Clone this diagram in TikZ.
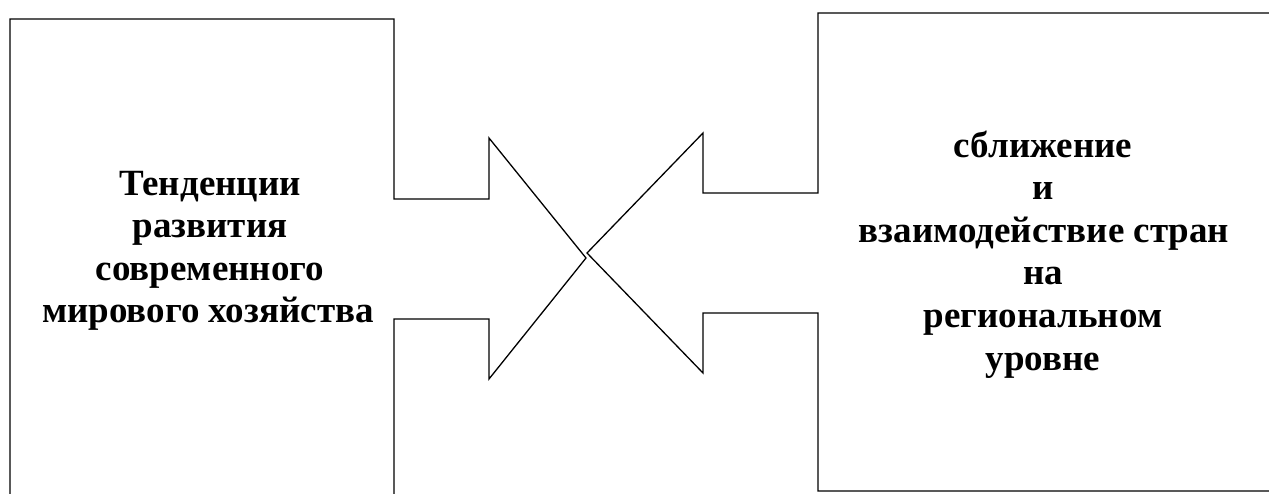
\documentclass[tikz,border=0pt]{standalone}
\usepackage{fontspec}
\setmainfont{Liberation Serif}
\begin{document}
\begin{tikzpicture}[x=1pt,y=-1pt,
  outline/.style={draw=black,line width=1.3pt,line join=miter},
  txt/.style={anchor=base,inner sep=0pt,font=\fontsize{37}{42}\selectfont\bfseries}]
\useasboundingbox (0,0) rectangle (1269,493);
% left shape
\draw[outline] (10,500) -- (10,19) -- (394,19) -- (394,199) -- (489,199) -- (489,138)
  -- (586,258) -- (489,379) -- (489,319) -- (394,319) -- (394,500);
% right shape
\draw[outline] (1280,13) -- (818,13) -- (818,193) -- (703,193) -- (703,133)
  -- (587,253) -- (703,373) -- (703,313) -- (818,313) -- (818,491) -- (1280,491);
% left text
\node[txt] (l1) at (210,195) {Тенденции};
\node[txt] (l2) at (210,237.5) {развития};
\node[txt] (l3) at (210,280) {современного};
\node[txt] (l4) at (208,322.5) {мирового хозяйства};
% right text
\node[txt] (r1) at (1043,157) {сближение};
\node[txt] (r2) at (1043,199.5) {и};
\node[txt] (r3) at (1044,242) {взаимодействие стран};
\node[txt] (r4) at (1043,284.5) {на};
\node[txt] (r5) at (1043,327) {региональном};
\node[txt] (r6) at (1043,370) {уровне};
\end{tikzpicture}
\end{document}
